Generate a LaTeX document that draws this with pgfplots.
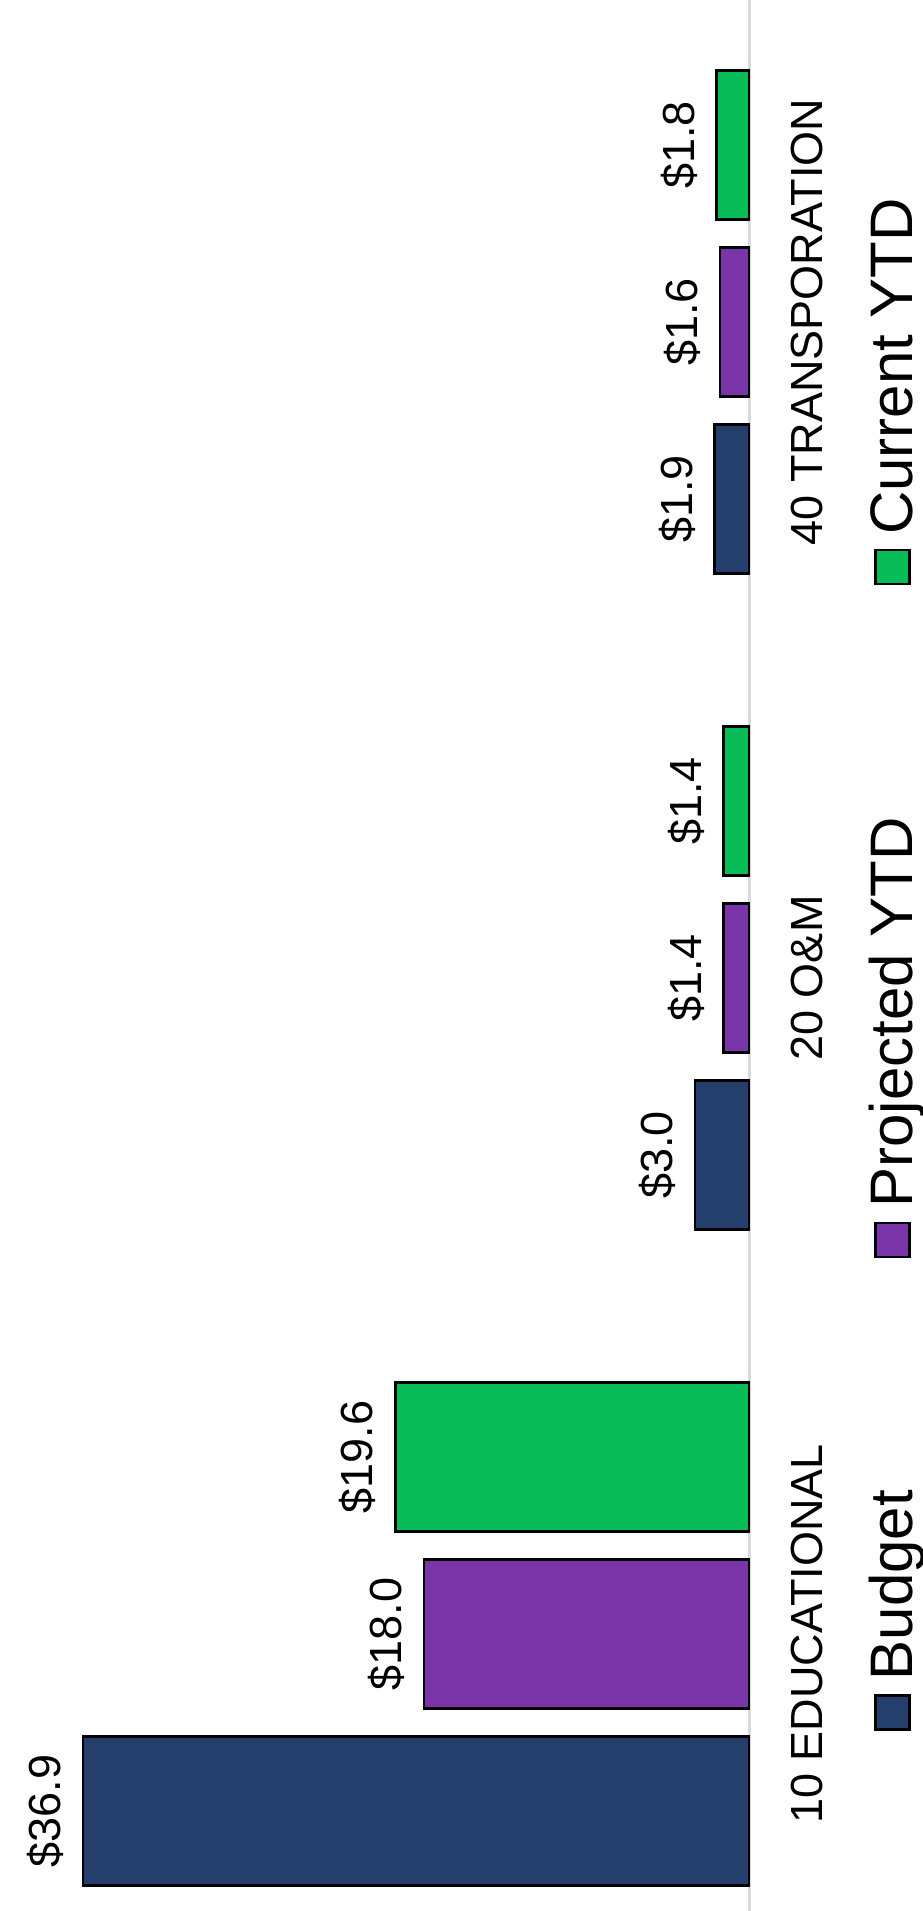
\documentclass[border=0pt]{standalone}
\usepackage{fontspec}
\setmainfont{Liberation Sans}
\usepackage{graphicx}
\usepackage{pgfplots}
\pgfplotsset{compat=1.18}
\definecolor{budget}{HTML}{243F6B}
\definecolor{projected}{HTML}{7A36A8}
\definecolor{current}{HTML}{08BD57}
\definecolor{baseline}{HTML}{D9D9D9}
\pgfplotsset{
  sqlegend/.style={legend image code/.code={%
    \draw[##1, draw=black, line width=2.5pt] (0pt,3pt) rectangle (34pt,37pt);}},
}
\begin{document}
\rotatebox{90}{%
\begin{tikzpicture}
\begin{axis}[
    at={(0pt,0pt)}, anchor=south west,
    scale only axis, width=1911pt, height=749pt,
    ybar=28pt, bar width=149pt,
    xmin=-0.4223, xmax=2.4909, ymin=0, ymax=41.5,
    enlargelimits=false, clip=false,
    hide y axis,
    axis x line*=bottom,
    x axis line style={draw=baseline, line width=3pt},
    xtick={0,1,2},
    xticklabels={10 EDUCATIONAL,20 O\&M,40 TRANSPORATION},
    major tick length=0pt,
    xticklabel style={font=\fontsize{45}{54}\selectfont, anchor=base, inner sep=0pt, yshift=-73pt},
    /pgf/number format/assume math mode=true,
    nodes near coords={\$\pgfmathprintnumber[fixed,fixed zerofill,precision=1]{\pgfplotspointmeta}},
    nodes near coords style={font=\fontsize{45}{54}\selectfont, text=black, inner sep=0pt, anchor=south, yshift=18pt},
    legend columns=-1,
    legend style={at={(axis description cs:0.0942,-0.1900)}, anchor=west,
      draw=none, fill=none, inner sep=0pt,
      font=\fontsize{60}{72}\selectfont,
      nodes={inner sep=0pt},
      cells={anchor=base west},
      /tikz/every odd column/.append style={column sep=14pt},
      /tikz/every even column/.append style={column sep=232pt}},
  ]
  \addplot[fill=budget, draw=black, line width=2.5pt, sqlegend]
    coordinates {(0,36.9) (1,3.0) (2,1.9)};
  \addplot[fill=projected, draw=black, line width=2.5pt, sqlegend]
    coordinates {(0,18.0) (1,1.4) (2,1.6)};
  \addplot[fill=current, draw=black, line width=2.5pt, sqlegend]
    coordinates {(0,19.6) (1,1.4) (2,1.8)};
  \legend{Budget,Projected YTD,Current YTD}
\end{axis}
\pgfresetboundingbox
\path (0pt,-173pt) rectangle (1911pt,749pt);
\end{tikzpicture}}
\end{document}
